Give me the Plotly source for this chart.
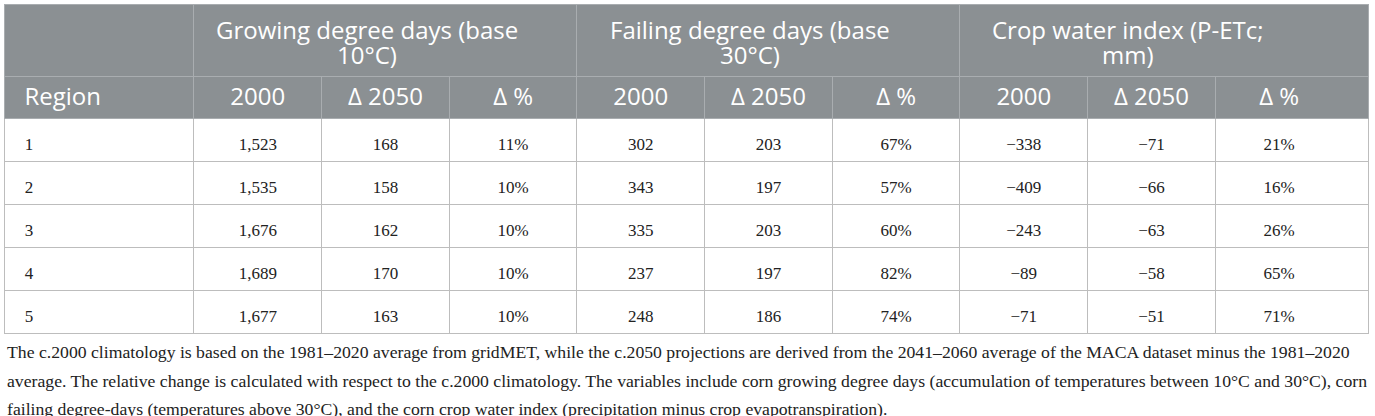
import plotly.graph_objects as go

# %% data
regions = ["1", "2", "3", "4", "5"]
groups = [
    ("Growing degree days (base", "10°C)"),
    ("Failing degree days (base", "30°C)"),
    ("Crop water index (P-ETc;", "mm)"),
]
sub_cols = ["2000", "Δ 2050", "Δ %"]

gdd_2000 = [1523, 1535, 1676, 1689, 1677]
gdd_d2050 = [168, 158, 162, 170, 163]
gdd_pct = [11, 10, 10, 10, 10]
fdd_2000 = [302, 343, 335, 237, 248]
fdd_d2050 = [203, 197, 203, 197, 186]
fdd_pct = [67, 57, 60, 82, 74]
cwi_2000 = [-338, -409, -243, -89, -71]
cwi_d2050 = [-71, -66, -63, -58, -51]
cwi_pct = [21, 16, 26, 65, 71]

footnote = [
    "The c.2000 climatology is based on the 1981–2020 average from gridMET, while the c.2050 projections are derived from the 2041–2060 average of the MACA dataset minus the 1981–2020",
    "average. The relative change is calculated with respect to the c.2000 climatology. The variables include corn growing degree days (accumulation of temperatures between 10°C and 30°C), corn",
    "failing degree-days (temperatures above 30°C), and the corn crop water index (precipitation minus crop evapotranspiration).",
]


def fmt(v):
    s = f"{abs(v):,}"
    return ("−" + s) if v < 0 else s


def pct(v):
    return f"{v}%"


# %% layout
W, H = 1375, 416
HEAD_BG = "#8b9093"
HEAD_LINE = "#a9adb0"
CELL_LINE = "#bdbdbd"
CLEAR = "rgba(0,0,0,0)"
SANS = "Open Sans"
SERIF = "Liberation Serif"
NB = "\u00a0"

COLW = 127.7
LEFT, RIGHT, TEXT_RIGHT = 4, 1369, 1343
TOP, ROW1, ROW2, ROWH = 4, 72, 42, 43
n = len(regions)
nothing = dict(fill_color=CLEAR, line=dict(color=CLEAR, width=0))


def px_y(top, bottom=H):
    return [1 - bottom / H, 1 - top / H]


fig = go.Figure()

# grid: merged top header row
fig.add_trace(go.Table(
    domain=dict(x=[LEFT / W, RIGHT / W], y=px_y(TOP)),
    columnwidth=[190, COLW * 3, COLW * 3, COLW * 2 + (RIGHT - TEXT_RIGHT) + COLW],
    header=dict(
        values=[""] * 4,
        fill_color=HEAD_BG,
        line=dict(color=HEAD_LINE, width=1),
        height=ROW1,
    ),
    cells=dict(values=[[""]] * 4, height=1, **nothing),
))

# grid: sub header + body rows
y2 = TOP + ROW1
fig.add_trace(go.Table(
    domain=dict(x=[LEFT / W, RIGHT / W], y=px_y(y2)),
    columnwidth=[190] + [COLW] * 8 + [COLW + RIGHT - TEXT_RIGHT],
    header=dict(
        values=[""] * 10,
        fill_color=HEAD_BG,
        line=dict(color=HEAD_LINE, width=1),
        height=ROW2,
    ),
    cells=dict(
        values=[[""] * n] * 10,
        fill_color="white",
        line=dict(color=CELL_LINE, width=1),
        height=ROWH,
    ),
))

# text: sub header labels
fig.add_trace(go.Table(
    domain=dict(x=[LEFT / W, TEXT_RIGHT / W], y=px_y(y2 + 3)),
    columnwidth=[190] + [COLW] * 9,
    header=dict(
        values=[NB * 2 + "Region"] + sub_cols * 3,
        align=["left"] + ["center"] * 9,
        font=dict(family=SANS, size=24, color="white"),
        height=ROW2,
        **nothing,
    ),
    cells=dict(values=[[""]] * 10, height=1, **nothing),
))

# text: body values
cols = [
    [NB * 3 + r for r in regions],
    [fmt(v) for v in gdd_2000], [fmt(v) for v in gdd_d2050], [pct(v) for v in gdd_pct],
    [fmt(v) for v in fdd_2000], [fmt(v) for v in fdd_d2050], [pct(v) for v in fdd_pct],
    [fmt(v) for v in cwi_2000], [fmt(v) for v in cwi_d2050], [pct(v) for v in cwi_pct],
]
y3 = y2 + ROW2
SPACER = 20
fig.add_trace(go.Table(
    domain=dict(x=[LEFT / W, TEXT_RIGHT / W], y=px_y(y3 + 11 - SPACER)),
    columnwidth=[190] + [COLW] * 9,
    header=dict(values=[""] * 10, height=SPACER, **nothing),
    cells=dict(
        values=cols,
        align=["left"] + ["center"] * 9,
        font=dict(family=SERIF, size=17, color="#222222"),
        height=ROWH,
        **nothing,
    ),
))

# merged group titles
centers = [367, 750, 1128]
for cx, (l1, l2) in zip(centers, groups):
    for k, txt in enumerate((l1, l2)):
        fig.add_annotation(
            text=txt, xref="paper", yref="paper", x=cx / W, y=1 - (30 + 25 * k) / H,
            xanchor="center", yanchor="middle", showarrow=False,
            font=dict(family=SANS, size=24, color="white"),
        )

for i, line in enumerate(footnote):
    fig.add_annotation(
        text=line, xref="paper", yref="paper", x=5 / W, y=1 - (352 + 28.5 * i) / H,
        xanchor="left", yanchor="middle", showarrow=False,
        font=dict(family=SERIF, size=17.7, color="#222222"),
    )

fig.update_layout(
    width=W, height=H,
    margin=dict(l=0, r=0, t=0, b=0),
    paper_bgcolor="white",
)

fig.write_html(
    "out.html",
    config={"displayModeBar": False},
    post_script="document.body.style.margin='0';",
)
